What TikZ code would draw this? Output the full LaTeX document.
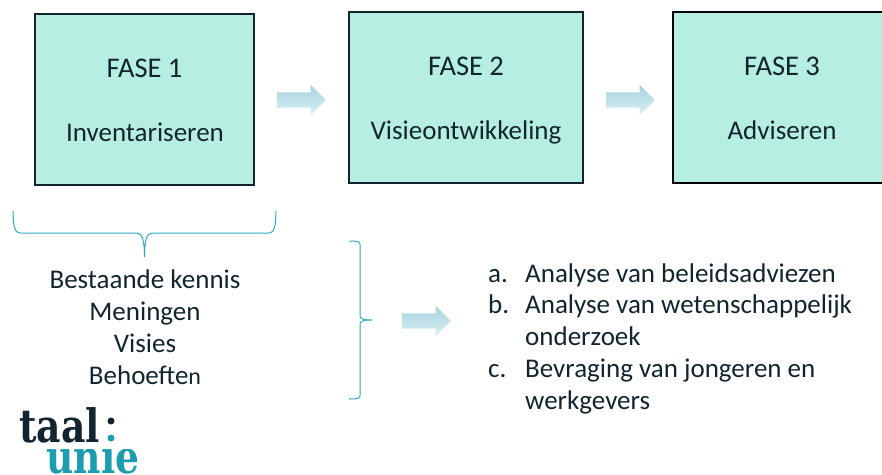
\documentclass[tikz,border=0pt]{standalone}
\usepackage{fontspec}
\setmainfont{Carlito}
\newfontfamily\logofont{DejaVu Serif}[BoldFont={DejaVu Serif Bold}]
\usetikzlibrary{shapes.arrows}
\definecolor{ink}{HTML}{12252F}
\definecolor{mint}{HTML}{B6EFE2}
\definecolor{bracecol}{HTML}{2FA9BB}
\definecolor{arrowtop}{HTML}{A6D3DF}
\definecolor{arrowbot}{HTML}{DBF0F4}
\definecolor{logoteal}{HTML}{1B9DAF}
\tikzset{
  x=1pt,y=-1pt,
  phase/.style={draw=ink,line width=2.6pt,fill=mint,anchor=north west,inner sep=0pt,outer sep=0pt},
  label/.style={text=ink,font=\fontsize{27}{27}\selectfont,inner sep=0pt,anchor=base},
  head/.style={text=ink,font=\fontsize{28.5}{28.5}\selectfont,inner sep=0pt,anchor=base},
  listlabel/.style={text=ink,font=\fontsize{27}{27}\selectfont,inner sep=0pt,anchor=base west},
  flow/.style={single arrow,minimum height=49pt,minimum width=30pt,single arrow head extend=7.5pt,
    inner xsep=0pt,inner ysep=7.5pt,outer sep=0pt,top color=arrowtop,bottom color=arrowbot,draw=none,anchor=center},
  bracket/.style={draw=bracecol,line width=1pt},
  logo/.style={inner sep=0pt,anchor=base west,xscale=.82,transform shape,font=\logofont\bfseries\fontsize{46}{46}\selectfont},
}
\begin{document}
\begin{tikzpicture}
\useasboundingbox (0,0) rectangle (882,474);
\clip (0,0) rectangle (882,474);
\node[phase,minimum width=219pt,minimum height=171pt] (b1) at (35,14) {};
\node[phase,minimum width=234pt,minimum height=171pt] (b2) at (349,12) {};
\node[phase,draw=black,minimum width=240pt,minimum height=171pt] (b3) at (673,12) {};
\node[head] (t1a) at (144.5,77) {FASE 1};
\node[label] (t1b) at (145,141) {Inventariseren};
\node[head] (t2a) at (466,75) {FASE 2};
\node[label] (t2b) at (466,139) {Visieontwikkeling};
\node[head] (t3a) at (782,75) {FASE 3};
\node[label] (t3b) at (782,139) {Adviseren};
\node[flow] (a1) at (297.5,100) {};
\node[flow] (a2) at (626.5,100) {};
\node[flow] (a3) at (422.5,321) {};
% under-brace
\coordinate (u1) at (13,211);
\coordinate (u2) at (276,211);
\coordinate (ut) at (144.5,257);
\draw[bracket] (u1) .. controls (13.5,226) and (14,233) .. (21,233) -- (137,233)
  .. controls (142,233) and (144.5,240) .. (ut)
  .. controls (144.5,240) and (147,233) .. (152,233) -- (268,233)
  .. controls (275,233) and (275.5,226) .. (u2);
% right brace
\coordinate (r1) at (349,241);
\coordinate (r2) at (349,399);
\coordinate (rt) at (372,320);
\draw[bracket] (r1) .. controls (354,241) and (360,241) .. (360,244) -- (360,316)
  .. controls (360,319) and (364,320) .. (rt)
  .. controls (364,320) and (360,321) .. (360,324) -- (360,396)
  .. controls (360,399) and (354,399) .. (r2);
\node[label] (k1) at (145,288) {Bestaande kennis};
\node[label] (k2) at (145,320) {Meningen};
\node[label] (k3) at (145,352) {Visies};
\node[label] (k4) at (145,384) {Behoefte{\fontsize{24}{24}\selectfont n}};
\node[listlabel] (l1m) at (488,282) {a.};
\node[listlabel] (l1) at (525,282) {Analyse van beleidsadviezen};
\node[listlabel] (l2m) at (488,313) {b.};
\node[listlabel] (l2) at (525,313) {Analyse van wetenschappelijk};
\node[listlabel] (l2b) at (525,345) {onderzoek};
\node[listlabel] (l3m) at (488,377) {c.};
\node[listlabel] (l3) at (525,377) {Bevraging van jongeren en};
\node[listlabel] (l3b) at (525,409) {werkgevers};
\node[logo,text=ink] (lg1) at (19,442) {taal};
\begin{scope}
\clip (0,449) rectangle (882,474);
\node[logo,text=logoteal] (lg2) at (46,473) {unie};
\end{scope}
\fill[ink] (111,421) circle (3.5);
\fill[logoteal] (111,438) circle (3.5);
\end{tikzpicture}
\end{document}
